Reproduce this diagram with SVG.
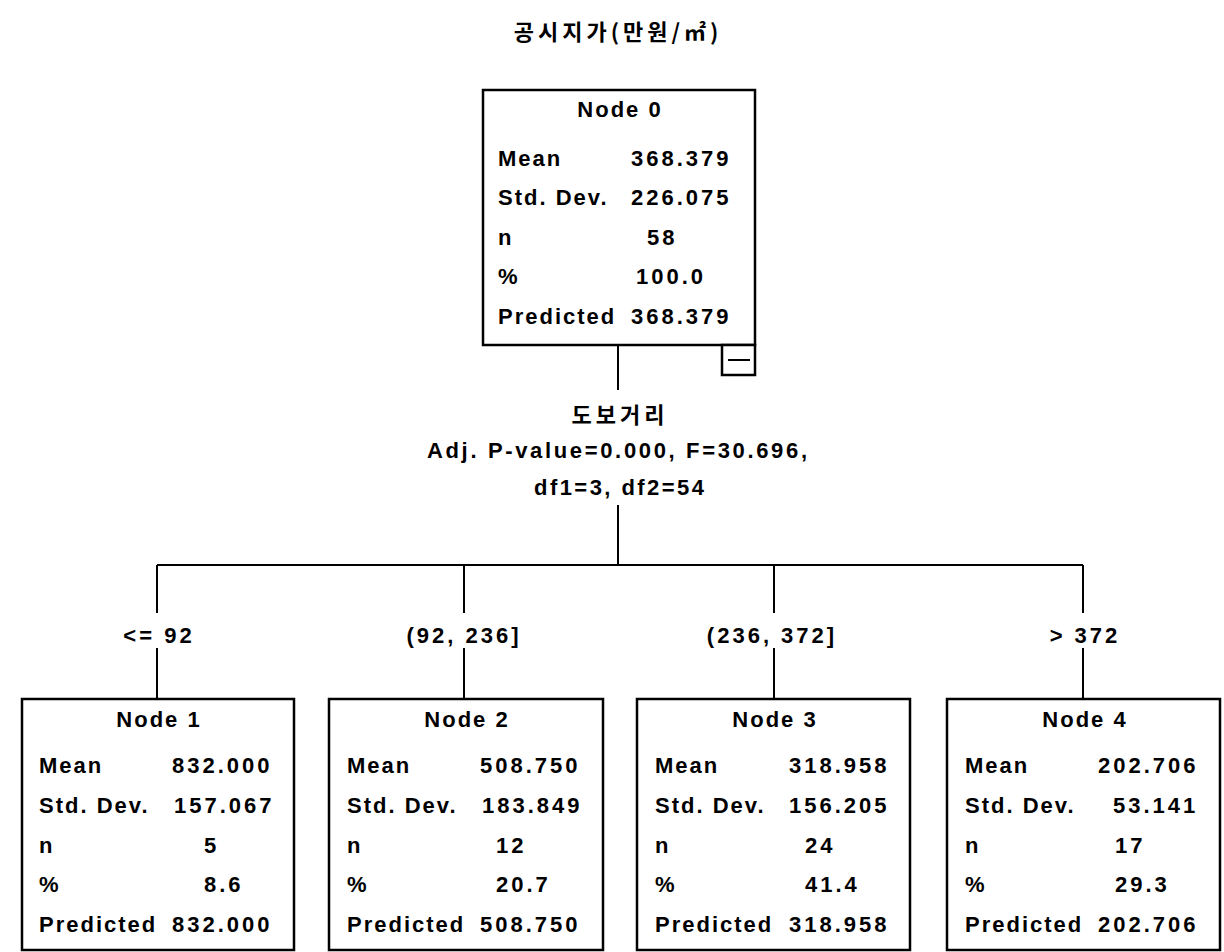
<svg xmlns="http://www.w3.org/2000/svg" width="1224" height="952" viewBox="0 0 1224 952">
<style>
.box{fill:#fff;stroke:#000;stroke-width:2.5}
.ln{stroke:#000;stroke-width:2;fill:none}
text{font-family:"Liberation Sans",Arial,sans-serif;font-size:22px;font-weight:bold;fill:#000}
.lab{letter-spacing:2px}
.val{letter-spacing:3px}
.ttl{letter-spacing:2px;text-anchor:middle}
.kr{font-family:"Noto Sans CJK KR","Liberation Sans",sans-serif;font-weight:bold;text-anchor:middle}
.stat{letter-spacing:2px;text-anchor:middle}
.cut{letter-spacing:3px;text-anchor:middle}
</style>
<rect width="1224" height="952" fill="#fff"/>
<g id="title">
<text class="kr" x="618" y="40" font-size="20" letter-spacing="4">공시지가(만원/㎡)</text>
</g>
<g id="connectors">
<line class="ln" x1="618" y1="345" x2="618" y2="390"/>
<line class="ln" x1="618" y1="505" x2="618" y2="565"/>
<line class="ln" x1="157" y1="565" x2="1083" y2="565"/>
<line class="ln" x1="157" y1="565" x2="157" y2="613"/>
<line class="ln" x1="157" y1="648" x2="157" y2="699"/>
<line class="ln" x1="464" y1="565" x2="464" y2="613"/>
<line class="ln" x1="464" y1="648" x2="464" y2="699"/>
<line class="ln" x1="774" y1="565" x2="774" y2="613"/>
<line class="ln" x1="774" y1="648" x2="774" y2="699"/>
<line class="ln" x1="1083" y1="565" x2="1083" y2="613"/>
<line class="ln" x1="1083" y1="648" x2="1083" y2="699"/>
</g>
<g id="split">
<text class="kr" x="620" y="423" font-size="21" letter-spacing="4">도보거리</text>
<text class="stat" x="618" y="458" textLength="382" lengthAdjust="spacing">Adj. P-value=0.000, F=30.696,</text>
<text class="stat" x="620" y="495" textLength="172" lengthAdjust="spacing">df1=3, df2=54</text>
</g>
<g id="edge-labels">
<text class="cut" x="159" y="643">&lt;= 92</text>
<text class="cut" x="464" y="643">(92, 236]</text>
<text class="cut" x="772" y="643">(236, 372]</text>
<text class="cut" x="1085" y="643">&gt; 372</text>
</g>
<g id="node0">
<rect class="box" x="483" y="90" width="272" height="255"/>
<rect class="box" x="722" y="345" width="33" height="30" stroke-width="2"/>
<line class="ln" x1="728" y1="360" x2="750" y2="360"/>
<text class="ttl" x="620" y="117">Node 0</text>
<text class="lab" x="498" y="166">Mean</text>
<text class="lab" x="498" y="205">Std. Dev.</text>
<text class="lab" x="498" y="245">n</text>
<text class="lab" x="498" y="284">%</text>
<text class="lab" x="498" y="324">Predicted</text>
<text class="val" x="631" y="166">368.379</text>
<text class="val" x="631" y="205">226.075</text>
<text class="val" x="647" y="245">58</text>
<text class="val" x="636" y="284">100.0</text>
<text class="val" x="631" y="324">368.379</text>
</g>
<g id="node1">
<rect class="box" x="22" y="699" width="272" height="251"/>
<text class="ttl" x="159" y="727">Node 1</text>
<text class="lab" x="39" y="773">Mean</text>
<text class="lab" x="39" y="813">Std. Dev.</text>
<text class="lab" x="39" y="853">n</text>
<text class="lab" x="39" y="892">%</text>
<text class="lab" x="39" y="932">Predicted</text>
<text class="val" x="172" y="773">832.000</text>
<text class="val" x="174" y="813">157.067</text>
<text class="val" x="204" y="853">5</text>
<text class="val" x="204" y="892">8.6</text>
<text class="val" x="172" y="932">832.000</text>
</g>
<g id="node2">
<rect class="box" x="329" y="699" width="274" height="251"/>
<text class="ttl" x="467" y="727">Node 2</text>
<text class="lab" x="347" y="773">Mean</text>
<text class="lab" x="347" y="813">Std. Dev.</text>
<text class="lab" x="347" y="853">n</text>
<text class="lab" x="347" y="892">%</text>
<text class="lab" x="347" y="932">Predicted</text>
<text class="val" x="480" y="773">508.750</text>
<text class="val" x="482" y="813">183.849</text>
<text class="val" x="496" y="853">12</text>
<text class="val" x="496" y="892">20.7</text>
<text class="val" x="480" y="932">508.750</text>
</g>
<g id="node3">
<rect class="box" x="637" y="699" width="273" height="251"/>
<text class="ttl" x="775" y="727">Node 3</text>
<text class="lab" x="655" y="773">Mean</text>
<text class="lab" x="655" y="813">Std. Dev.</text>
<text class="lab" x="655" y="853">n</text>
<text class="lab" x="655" y="892">%</text>
<text class="lab" x="655" y="932">Predicted</text>
<text class="val" x="789" y="773">318.958</text>
<text class="val" x="789" y="813">156.205</text>
<text class="val" x="805" y="853">24</text>
<text class="val" x="805" y="892">41.4</text>
<text class="val" x="789" y="932">318.958</text>
</g>
<g id="node4">
<rect class="box" x="947" y="699" width="273" height="251"/>
<text class="ttl" x="1085" y="727">Node 4</text>
<text class="lab" x="965" y="773">Mean</text>
<text class="lab" x="965" y="813">Std. Dev.</text>
<text class="lab" x="965" y="853">n</text>
<text class="lab" x="965" y="892">%</text>
<text class="lab" x="965" y="932">Predicted</text>
<text class="val" x="1098" y="773">202.706</text>
<text class="val" x="1113" y="813">53.141</text>
<text class="val" x="1115" y="853">17</text>
<text class="val" x="1115" y="892">29.3</text>
<text class="val" x="1098" y="932">202.706</text>
</g>
</svg>
